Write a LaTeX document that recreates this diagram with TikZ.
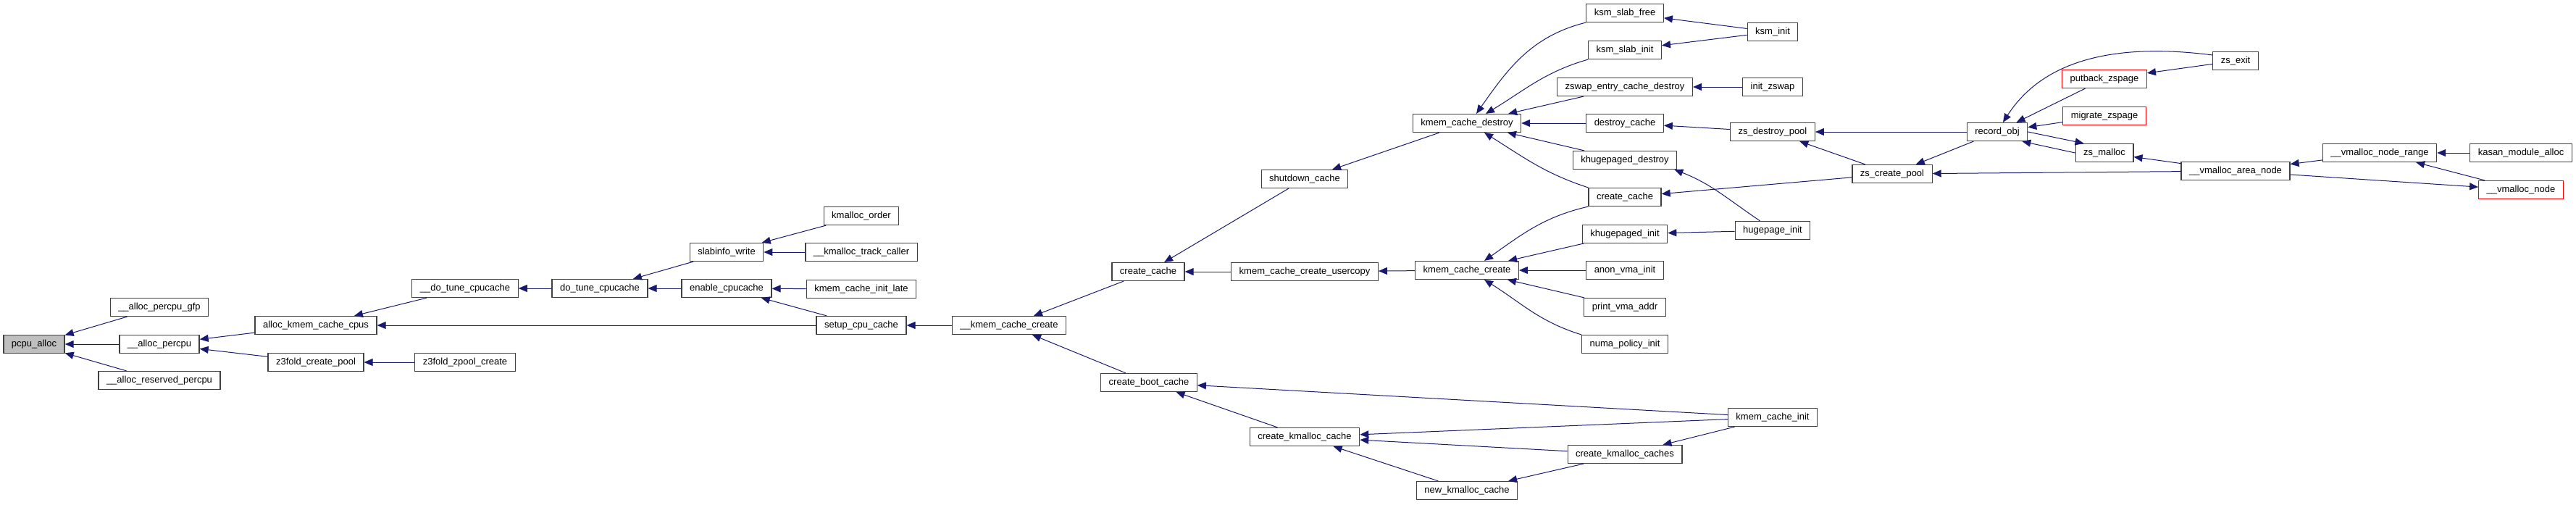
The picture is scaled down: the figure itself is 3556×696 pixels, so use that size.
\documentclass[tikz,border=0pt]{standalone}
\usepackage{fontspec}
\setmainfont{Liberation Sans}
\usetikzlibrary{positioning,arrows.meta,calc}
\definecolor{edgeblue}{HTML}{191970}
\definecolor{boxline}{HTML}{404040}

\begin{document}
\begin{tikzpicture}[x=1pt, y=1pt,
  fn/.style={draw=boxline, line width=1.2pt, fill=white, minimum height=25pt,
    inner xsep=11pt, inner ysep=0pt, text height=10pt, text depth=3pt,
    font=\fontsize{13pt}{15pt}\selectfont},
  fnred/.style={fn, draw=red},
  fnroot/.style={fn, fill=gray!50},
  cl/.style={edgeblue, line width=1pt, {Triangle[length=12pt,width=10pt]}-}]
  \useasboundingbox (0,0) rectangle (3556,-696);

  % callers of pcpu_alloc, one column per rank
  \node[fnroot] (pcpu) at (47,-475) {pcpu\_alloc};
  \node[fn] (gfp)  at (220,-424) {\_\_alloc\_percpu\_gfp};
  \node[fn] (apc)  at (220,-475) {\_\_alloc\_percpu};
  \node[fn] (arp)  at (220,-525) {\_\_alloc\_reserved\_percpu};
  \node[fn] (akcc) at (436,-449) {alloc\_kmem\_cache\_cpus};
  \node[fn] (zfcp) at (436,-500) {z3fold\_create\_pool};
  \node[fn] (dtc2) at (642,-398) {\_\_do\_tune\_cpucache};
  \node[fn] (zfzc) at (642,-500) {z3fold\_zpool\_create};
  \node[fn] (dtc)  at (828,-398) {do\_tune\_cpucache};
  \node[fn] (sw)   at (1003,-348) {slabinfo\_write};
  \node[fn] (ec)   at (1003,-398) {enable\_cpucache};
  \node[fn] (ko)   at (1189,-298) {kmalloc\_order};
  \node[fn] (ktc)  at (1189,-348) {\_\_kmalloc\_track\_caller};
  \node[fn] (kcil) at (1189,-399) {kmem\_cache\_init\_late};
  \node[fn] (scc)  at (1189,-449) {setup\_cpu\_cache};
  \node[fn] (kcc2) at (1393,-449) {\_\_kmem\_cache\_create};
  \node[fn] (cca)  at (1585,-375) {create\_cache};
  \node[fn] (cbc)  at (1586,-528) {create\_boot\_cache};
  \node[fn] (sdc)  at (1801,-247) {shutdown\_cache};
  \node[fn] (kccu) at (1801,-375) {kmem\_cache\_create\_usercopy};
  \node[fn] (ckc)  at (1801,-603) {create\_kmalloc\_cache};
  \node[fn] (kcd)  at (2025,-170) {kmem\_cache\_destroy};
  \node[fn] (kcc)  at (2025,-373) {kmem\_cache\_create};
  \node[fn] (nkc)  at (2025,-677) {new\_kmalloc\_cache};
  \node[fn] (ksf)  at (2243,-18) {ksm\_slab\_free};
  \node[fn] (ksi)  at (2243,-69) {ksm\_slab\_init};
  \node[fn] (zecd) at (2243,-120) {zswap\_entry\_cache\_destroy};
  \node[fn] (dc)   at (2243,-170) {destroy\_cache};
  \node[fn] (kd)   at (2243,-221) {khugepaged\_destroy};
  \node[fn] (ccb)  at (2243,-272) {create\_cache};
  \node[fn] (ki)   at (2243,-323) {khugepaged\_init};
  \node[fn] (avi)  at (2243,-373) {anon\_vma\_init};
  \node[fn] (pva)  at (2243,-424) {print\_vma\_addr};
  \node[fn] (npi)  at (2243,-475) {numa\_policy\_init};
  \node[fn] (ckcs) at (2243,-627) {create\_kmalloc\_caches};
  \node[fn] (ksmi) at (2447,-44) {ksm\_init};
  \node[fn] (iz)   at (2447,-120) {init\_zswap};
  \node[fn] (zdp)  at (2447,-182) {zs\_destroy\_pool};
  \node[fn] (hi)   at (2447,-318) {hugepage\_init};
  \node[fn] (kci)  at (2447,-576) {kmem\_cache\_init};
  \node[fn] (zsc)  at (2612,-240) {zs\_create\_pool};
  \node[fn] (ro)   at (2757,-182) {record\_obj};
  \node[fnred] (pz) at (2905,-109) {putback\_zspage};
  \node[fnred] (mz) at (2905,-160) {migrate\_zspage};
  \node[fn] (zm)   at (2905,-211) {zs\_malloc};
  \node[fn] (zse)  at (3086,-84) {zs\_exit};
  \node[fn] (van)  at (3086,-236) {\_\_vmalloc\_area\_node};
  \node[fn] (vnr)  at (3285,-211) {\_\_vmalloc\_node\_range};
  \node[fn] (kma)  at (3480,-211) {kasan\_module\_alloc};
  \node[fnred] (vn) at (3480,-262) {\_\_vmalloc\_node};

  % arrow tip sits on the callee
  \draw[cl] (pcpu) -- (gfp);
  \draw[cl] (pcpu) -- (apc);
  \draw[cl] (pcpu) -- (arp);
  \draw[cl] (apc) -- (akcc);
  \draw[cl] (apc) -- (zfcp);
  \draw[cl] (akcc) -- (dtc2);
  \draw[cl] (akcc) -- (scc);
  \draw[cl] (zfcp) -- (zfzc);
  \draw[cl] (dtc2) -- (dtc);
  \draw[cl] (dtc) -- (sw);
  \draw[cl] (dtc) -- (ec);
  \draw[cl] (sw) -- (ko);
  \draw[cl] (sw) -- (ktc);
  \draw[cl] (ec) -- (kcil);
  \draw[cl] (ec) -- (scc);
  \draw[cl] (scc) -- (kcc2);
  \draw[cl] (kcc2) -- (cca);
  \draw[cl] (kcc2) -- (cbc);
  \draw[cl] (cca) -- (sdc);
  \draw[cl] (cca) -- (kccu);
  \draw[cl] (sdc) -- (kcd);
  \draw[cl] (kccu) -- (kcc);
  \draw[cl] (cbc) -- (kci);
  \draw[cl] (cbc) -- (ckc);
  \draw[cl] (ckc) -- (kci);
  \draw[cl] (ckc) -- (ckcs);
  \draw[cl] (ckc) -- (nkc);
  \draw[cl] (nkc) -- (ckcs);
  \draw[cl] (ckcs) -- (kci);

  \draw[cl] ($(kcd.north)+(13,0)$) to[out=55,in=194] (ksf.south west);
  \draw[cl] ($(kcd.north)+(26,0)$) to[out=31,in=196] (ksi.south west);
  \draw[cl] (kcd) -- (zecd);
  \draw[cl] (kcd) -- (dc);
  \draw[cl] (kcd) -- (kd);
  \draw[cl] ($(kcd.south)+(24,0)$) to[out=-32,in=162] (ccb.north west);
  \draw[cl] ($(kcc.north)+(24,0)$) to[out=35,in=193] (ccb.south west);
  \draw[cl] (kcc) -- (ki);
  \draw[cl] (kcc) -- (avi);
  \draw[cl] (kcc) -- (pva);
  \draw[cl] ($(kcc.south)+(24,0)$) to[out=-32,in=163] (npi.north west);

  \draw[cl] (ksf) -- (ksmi);
  \draw[cl] (ksi) -- (ksmi);
  \draw[cl] (zecd) -- (iz);
  \draw[cl] (dc) -- (zdp);
  \draw[cl] ($(kd.south east)+(-4,0)$) to[out=-21,in=146] ($(hi.north west)+(35,0)$);
  \draw[cl] (ccb) -- (zsc);
  \draw[cl] (ki) -- (hi);

  % zsmalloc / vmalloc corner
  \draw[cl] (zdp) -- (ro);
  \draw[cl] (zdp) -- (zsc);
  \draw[cl] (zsc) -- (ro);
  \draw[cl] (zsc) -- (van);
  \draw[cl] ($(ro.north)+(8,0)$) .. controls +(45,70) and +(-164,21) .. ($(zse.west)+(0,8)$);
  \draw[cl] (ro) -- (pz);
  \draw[cl] (ro) -- (mz);
  \draw[cl] ($(ro.south east)+(-8,0)$) -- (zm.west);
  \draw[cl] ($(zm.north west)+(12,0)$) -- (ro.east);
  \draw[cl] (pz) -- (zse);
  \draw[cl] (zm) -- (van);
  \draw[cl] (van) -- (vnr);
  \draw[cl] (vnr) -- (kma);
  \draw[cl] (vnr) -- (vn);
  \draw[cl] (vn) -- (van);
\end{tikzpicture}
\end{document}
